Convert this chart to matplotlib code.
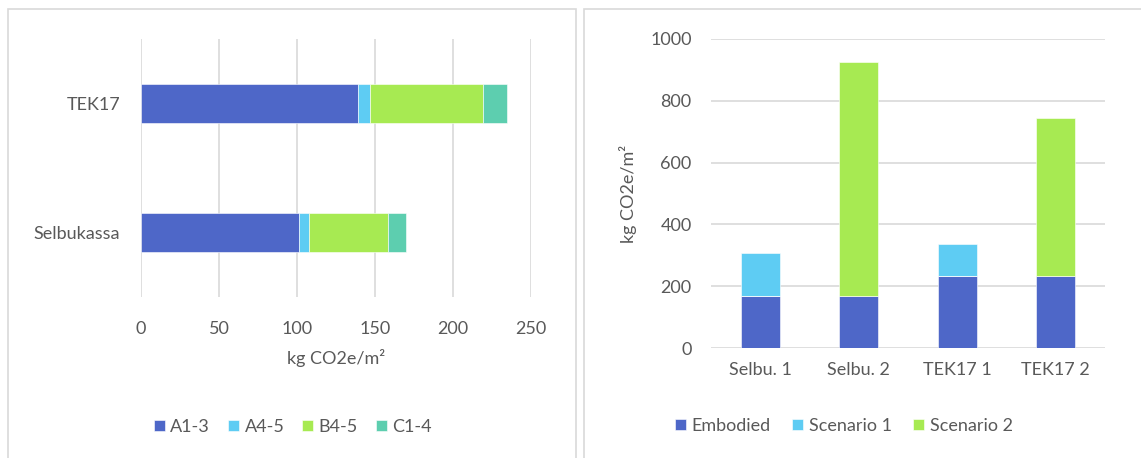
import numpy as np
import matplotlib.pyplot as plt
from matplotlib.patches import Rectangle

plt.rcParams['font.family'] = ['Lato', 'DejaVu Sans']

# left chart: life cycle stages per building
buildings = ['Selbukassa', 'TEK17']
stages = ['A1-3', 'A4-5', 'B4-5', 'C1-4']
a13 = [101.3, 139.0]
a45 = [6.4, 8.0]
b45 = [50.4, 72.5]
c14 = [11.6, 15.4]

# right chart: embodied + operational scenarios
cases = ['Selbu. 1', 'Selbu. 2', 'TEK17 1', 'TEK17 2']
embodied = [169.7, 169.7, 234.8, 234.8]
scenario1 = [137.0, 0, 101.0, 0]
scenario2 = [0, 756.0, 0, 508.0]

blue = '#4E67C8'
lblue = '#5ECCF3'
green = '#A7EA52'
teal = '#5DCEAF'
txt = '#595959'
grid = '#D9D9D9'

fig = plt.figure(figsize=(11.41, 4.58), dpi=100)

# panel frames
fig.patches.append(Rectangle((8/1141, -0.01), 568/1141, 1 - 9/458 + 0.01,
                             transform=fig.transFigure, fill=False,
                             edgecolor=grid, linewidth=1.2))
fig.patches.append(Rectangle((584/1141, -0.01), 0.5, 1 - 9/458 + 0.01,
                             transform=fig.transFigure, fill=False,
                             edgecolor=grid, linewidth=1.2))

# ---- left: horizontal stacked bars
ax1 = fig.add_axes([141/1141, 1 - 297/458, 390/1141, 258/458])
y = np.arange(len(buildings))
left = np.zeros(len(buildings))
for vals, col, lab in zip([a13, a45, b45, c14], [blue, lblue, green, teal], stages):
    ax1.barh(y, vals, left=left, height=0.31, color=col, label=lab,
             edgecolor='white', linewidth=0.4, zorder=3)
    left += np.array(vals)
ax1.set_xlim(0, 250)
ax1.set_ylim(-0.5, 1.5)
ax1.set_xticks(np.arange(0, 251, 50))
ax1.set_yticks(y)
ax1.set_yticklabels(buildings)
ax1.grid(axis='x', color=grid, linewidth=1.2, zorder=0)
for s in ax1.spines.values():
    s.set_visible(False)
ax1.tick_params(length=0, labelsize=13, labelcolor=txt)
ax1.tick_params(axis='x', pad=17)
ax1.tick_params(axis='y', pad=15)
ax1.set_xlabel('kg CO2e/m²', fontsize=13, color=txt, va='center')
ax1.xaxis.set_label_coords(0.5, -0.236)
h1, l1 = ax1.get_legend_handles_labels()
fig.legend(h1, l1, loc='center', bbox_to_anchor=(293/1141, 1 - 427/458),
           ncol=4, frameon=False, fontsize=13, labelcolor=txt,
           handlelength=0.6, handleheight=0.6, handletextpad=0.3,
           columnspacing=1.0)

# ---- right: vertical stacked bars
ax2 = fig.add_axes([711/1141, 1 - 348.3/458, 394/1141, 309.6/458])
x = np.arange(len(cases))
ax2.bar(x, embodied, width=0.4, color=blue, label='Embodied',
        edgecolor='white', linewidth=0.4, zorder=3)
ax2.bar(x, scenario1, width=0.4, bottom=embodied, color=lblue, label='Scenario 1',
        edgecolor='white', linewidth=0.4, zorder=3)
ax2.bar(x, scenario2, width=0.4, bottom=embodied, color=green, label='Scenario 2',
        edgecolor='white', linewidth=0.4, zorder=3)
ax2.set_xlim(-0.5, 3.5)
ax2.set_ylim(0, 1000)
ax2.set_yticks(np.arange(0, 1001, 200))
ax2.set_xticks(x)
ax2.set_xticklabels(cases)
ax2.grid(axis='y', color=grid, linewidth=1.2, zorder=0)
for s in ax2.spines.values():
    s.set_visible(False)
ax2.tick_params(length=0, labelsize=13, labelcolor=txt)
ax2.tick_params(axis='x', pad=10)
ax2.tick_params(axis='y', pad=14)
ax2.set_ylabel('kg CO2e/m²', fontsize=13, color=txt, va='center')
ax2.yaxis.set_label_coords(-0.21, 0.5)
h2, l2 = ax2.get_legend_handles_labels()
fig.legend(h2, l2, loc='center', bbox_to_anchor=(844/1141, 1 - 426/458),
           ncol=3, frameon=False, fontsize=13, labelcolor=txt,
           handlelength=0.6, handleheight=0.6, handletextpad=0.3,
           columnspacing=1.2)

fig.savefig('out.png', dpi=100)
